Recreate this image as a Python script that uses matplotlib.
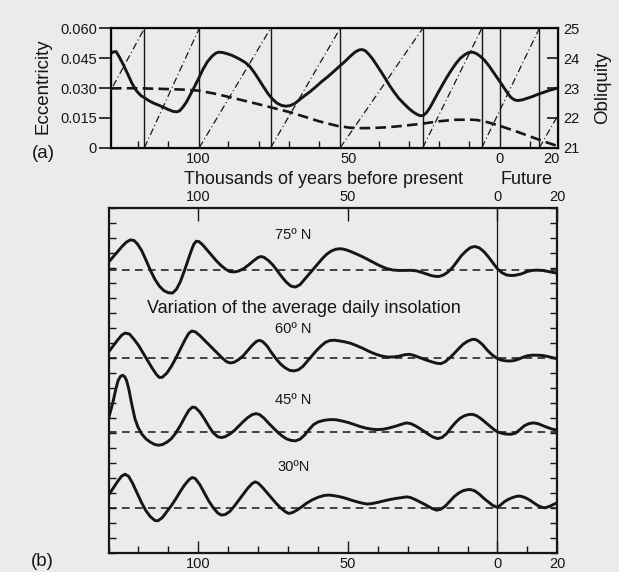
import numpy as np
import matplotlib
matplotlib.use('Agg')
import matplotlib.pyplot as plt
from matplotlib.ticker import MultipleLocator

plt.rcParams['font.family'] = ['Liberation Sans', 'DejaVu Sans']

# time in thousands of years, negative = before present
# ---- panel (a) ----
# obliquity (degrees)
obliquity = [(-129, 24.16), (-128.2, 24.21), (-127.3, 24.22), (-126.3, 24.05), (-125, 23.8),
             (-123.5, 23.48), (-122, 23.15), (-120.5, 22.9), (-119, 22.74), (-118, 22.68),
             (-116.5, 22.58), (-115, 22.5), (-113.3, 22.43), (-111.5, 22.35), (-110, 22.28),
             (-108.5, 22.22), (-107.2, 22.2), (-106.3, 22.23), (-105.2, 22.35), (-104, 22.52),
             (-102.8, 22.75), (-101.5, 23.0), (-100, 23.3), (-98.5, 23.62), (-97, 23.88),
             (-95.5, 24.06), (-94.2, 24.17), (-93.2, 24.2), (-92, 24.19), (-90.5, 24.15),
             (-89, 24.1), (-87.5, 24.03), (-86, 23.95), (-84.5, 23.86), (-83, 23.73),
             (-81.5, 23.53), (-80, 23.3), (-78.5, 23.06), (-77, 22.83), (-75.5, 22.64),
             (-74, 22.5), (-72.5, 22.42), (-71, 22.39), (-69.5, 22.41), (-68, 22.48),
             (-66.5, 22.6), (-65, 22.72), (-63, 22.87), (-61, 23.04), (-59, 23.22),
             (-57, 23.38), (-55, 23.56), (-53, 23.74), (-51, 23.92), (-49.5, 24.07),
             (-48, 24.2), (-46.8, 24.27), (-45.7, 24.29), (-44.6, 24.25), (-43.5, 24.14),
             (-42.2, 23.98), (-41, 23.8), (-39.5, 23.57), (-38, 23.33), (-36.5, 23.08),
             (-35, 22.86), (-33.5, 22.66), (-32, 22.5), (-30.5, 22.35), (-29, 22.22),
             (-27.5, 22.12), (-26.3, 22.07), (-25.3, 22.08), (-24.3, 22.17), (-23.2, 22.33),
             (-22, 22.55), (-20.5, 22.83), (-19, 23.1), (-17.5, 23.36), (-16, 23.6),
             (-14.5, 23.82), (-13, 24.0), (-11.5, 24.12), (-10.2, 24.19), (-9, 24.2),
             (-7.8, 24.16), (-6.5, 24.07), (-5, 23.93), (-3.5, 23.74), (-2, 23.52),
             (-0.5, 23.3), (1, 23.08), (2.5, 22.85), (3.8, 22.68), (5, 22.6), (6, 22.58),
             (7.5, 22.6), (9, 22.65), (10.8, 22.71), (12.5, 22.78), (14.5, 22.85),
             (16.5, 22.92), (19.3, 23.0)]

# eccentricity
eccentricity = [(-129, 0.0298), (-124, 0.0299), (-118, 0.0298), (-111, 0.0295), (-105, 0.0292),
                (-100, 0.0287), (-94, 0.0270), (-88, 0.0248), (-82, 0.0226), (-76, 0.0203),
                (-70, 0.0180), (-65, 0.0157), (-60, 0.0133), (-54, 0.0110), (-50, 0.0101),
                (-47, 0.0098), (-42, 0.0099), (-37, 0.0103), (-32, 0.0110), (-26, 0.0120),
                (-20, 0.0133), (-15, 0.0140), (-10, 0.0141), (-7.5, 0.0139), (-4, 0.0128),
                (0, 0.0110), (5, 0.0085), (10, 0.0057), (15, 0.0030), (19.3, 0.0008)]

# precession: perihelion longitude runs 0 -> 360 deg between these times
prec_resets = [-139.4, -117.9, -99.7, -76.0, -52.9, -25.5, -5.9, 13.2, 36.0]

# ---- panel (b): insolation anomalies (arbitrary units) ----
lat75 = [(-130, 0.50), (-128.5, 0.85), (-127, 1.20), (-125.5, 1.55), (-124, 1.85), (-122.7, 1.99),
         (-121.5, 1.95), (-120.4, 1.73), (-119, 1.30), (-117.5, 0.65), (-116, -0.05),
         (-114.5, -0.65), (-113, -1.10), (-111.5, -1.40), (-110, -1.54), (-108.6, -1.56),
         (-107.3, -1.30), (-106, -0.80), (-104.8, -0.15), (-103.5, 0.60), (-102.3, 1.30),
         (-101.5, 1.70), (-100.7, 1.90), (-99.8, 1.88), (-98.5, 1.65), (-97, 1.30), (-95.5, 0.95),
         (-94, 0.60), (-92.5, 0.30), (-91, 0.05), (-89.5, -0.12), (-88, -0.15), (-86.7, -0.10),
         (-85, 0.05), (-83.3, 0.30), (-81.5, 0.60), (-80, 0.82), (-79, 0.88), (-78, 0.82),
         (-76.5, 0.60), (-75, 0.30), (-73.5, -0.10), (-72, -0.50), (-70.5, -0.85), (-69, -1.10),
         (-67.5, -1.16), (-66, -1.00), (-64.5, -0.65), (-63, -0.30), (-61.5, 0.05), (-60, 0.40),
         (-58.5, 0.75), (-57, 1.05), (-55.5, 1.25), (-54, 1.37), (-52.5, 1.40), (-51, 1.35),
         (-49.5, 1.25), (-47.5, 1.08), (-45.5, 0.90), (-43.5, 0.70), (-41.6, 0.50), (-39.5, 0.28),
         (-37.1, 0.08), (-35, -0.02), (-33, -0.05), (-31, -0.05), (-29, -0.04), (-27, -0.08),
         (-25, -0.20), (-23.5, -0.30), (-22, -0.40), (-20.5, -0.45), (-19.5, -0.45), (-18, -0.35),
         (-16.5, -0.15), (-15, 0.15), (-13.5, 0.55), (-12, 0.95), (-10.5, 1.25), (-9, 1.48),
         (-7.5, 1.55), (-6, 1.45), (-4.5, 1.20), (-3, 0.85), (-1.5, 0.45), (0, 0.06),
         (1.5, -0.20), (3, -0.35), (4.6, -0.39), (6, -0.37), (8, -0.28), (10, -0.12),
         (11.5, -0.05), (13, -0.03), (15, -0.05), (17, -0.12), (18.5, -0.18), (20, -0.23)]

lat60 = [(-130, 0.40), (-128.5, 0.80), (-127, 1.20), (-125.5, 1.55), (-124.4, 1.67), (-123, 1.60),
         (-121.5, 1.25), (-120, 0.85), (-118.5, 0.35), (-117, -0.15), (-115.5, -0.65),
         (-114, -1.10), (-113, -1.30), (-112, -1.28), (-110.5, -1.00), (-109, -0.55),
         (-107.5, 0.00), (-106, 0.60), (-104.5, 1.20), (-103.2, 1.65), (-102.2, 1.80),
         (-101, 1.75), (-99.5, 1.50), (-98, 1.20), (-96.5, 0.90), (-95, 0.60), (-93.5, 0.30),
         (-92, 0.00), (-90.5, -0.25), (-89.3, -0.33), (-88, -0.28), (-86.5, -0.10), (-85, 0.15),
         (-83.5, 0.50), (-82, 0.85), (-80.5, 1.12), (-79.5, 1.18), (-78.5, 1.10), (-77, 0.80),
         (-75.5, 0.35), (-74, -0.05), (-72.5, -0.40), (-71, -0.65), (-69.5, -0.82), (-68, -0.86),
         (-66.5, -0.78), (-65, -0.55), (-63.5, -0.20), (-62, 0.15), (-60.5, 0.50), (-59, 0.80),
         (-57.5, 1.05), (-56, 1.17), (-54.5, 1.19), (-53, 1.15), (-51, 1.08), (-49, 0.98),
         (-47, 0.82), (-45, 0.65), (-43, 0.45), (-41, 0.28), (-39, 0.15), (-37, 0.07), (-35, 0.07),
         (-33, 0.12), (-31, 0.22), (-29.5, 0.25), (-28, 0.18), (-26, 0.03), (-24, -0.12),
         (-22, -0.25), (-20.5, -0.34), (-19, -0.38), (-17.5, -0.25), (-16, 0.00), (-14.5, 0.30),
         (-13, 0.62), (-11.5, 0.92), (-10, 1.12), (-8.5, 1.24), (-7.5, 1.25), (-6.5, 1.15),
         (-5, 0.90), (-3.5, 0.55), (-2, 0.25), (-0.5, 0.02), (1, -0.12), (2.5, -0.18), (4, -0.20),
         (5.5, -0.17), (7, -0.08), (8.5, 0.05), (10, 0.15), (11.5, 0.19), (13, 0.19), (14.5, 0.18),
         (16, 0.14), (17.5, 0.07), (19, 0.00), (20, -0.04)]

lat45 = [(-130, 0.93), (-129.2, 1.52), (-128.4, 2.15), (-127.6, 2.87), (-126.8, 3.48), (-126, 3.75),
         (-125.3, 3.82), (-124.6, 3.72), (-124, 3.48), (-123.2, 2.87), (-122.3, 1.93),
         (-121.2, 0.93), (-120.2, 0.37), (-119, -0.08), (-117.5, -0.43), (-116, -0.65),
         (-114.5, -0.81), (-113.2, -0.85), (-112, -0.81), (-110.5, -0.65), (-109, -0.41),
         (-107.5, -0.03), (-106, 0.47), (-104.5, 1.02), (-103.2, 1.47), (-102, 1.69), (-101, 1.67),
         (-99.5, 1.37), (-98, 0.92), (-96.5, 0.42), (-95, -0.03), (-93.5, -0.28), (-92.3, -0.34),
         (-91, -0.28), (-89.5, -0.11), (-88, 0.12), (-86.5, 0.42), (-85, 0.72), (-83.5, 0.99),
         (-82, 1.19), (-80.7, 1.26), (-79.5, 1.19), (-78, 0.95), (-76.5, 0.62), (-75, 0.32),
         (-73.5, 0.02), (-72, -0.23), (-70.5, -0.43), (-69, -0.53), (-67.5, -0.56), (-66, -0.45),
         (-64.5, -0.18), (-63, 0.19), (-61.5, 0.52), (-60, 0.70), (-58, 0.81), (-56, 0.86),
         (-54, 0.85), (-52, 0.77), (-50, 0.67), (-48, 0.54), (-46, 0.40), (-44, 0.29), (-42, 0.22),
         (-40, 0.19), (-38, 0.22), (-36, 0.31), (-34, 0.42), (-32, 0.55), (-30.5, 0.64),
         (-29, 0.59), (-27.5, 0.45), (-26, 0.27), (-24.5, 0.07), (-23, -0.13), (-21.5, -0.31),
         (-20, -0.41), (-18.5, -0.33), (-17, -0.08), (-15.5, 0.32), (-14, 0.67), (-12.5, 0.95),
         (-11, 1.12), (-9.5, 1.20), (-8.3, 1.21), (-7, 1.12), (-5.5, 0.92), (-4, 0.67), (-2.5, 0.42),
         (-1, 0.17), (0, 0.04), (1.5, -0.06), (3, -0.11), (4.5, -0.12), (6, -0.05), (7.5, 0.19),
         (9, 0.45), (10.5, 0.59), (12, 0.64), (13.5, 0.59), (15, 0.47), (16.5, 0.35), (18, 0.24),
         (20, 0.15)]

lat30 = [(-130, 0.84), (-128.5, 1.30), (-127, 1.75), (-125.7, 2.10), (-124.5, 2.24), (-123.3, 2.10),
         (-122, 1.65), (-120.5, 1.00), (-119, 0.35), (-117.5, -0.20), (-116, -0.60),
         (-114.5, -0.85), (-113.5, -0.87), (-112, -0.65), (-110.5, -0.25), (-109, 0.15),
         (-107.5, 0.60), (-106, 1.10), (-104.5, 1.55), (-103, 1.90), (-102, 2.02), (-101, 1.95),
         (-99.5, 1.55), (-98, 1.00), (-96.5, 0.45), (-95, 0.00), (-93.5, -0.35), (-92.3, -0.49),
         (-91, -0.45), (-89.5, -0.25), (-88, 0.10), (-86.5, 0.50), (-85, 0.90), (-83.5, 1.30),
         (-82, 1.62), (-81, 1.73), (-80, 1.65), (-78.5, 1.35), (-77, 1.00), (-75.5, 0.65),
         (-74, 0.30), (-72.5, 0.00), (-71, -0.25), (-69.8, -0.38), (-68.5, -0.32), (-67, -0.15),
         (-65.5, 0.05), (-64, 0.28), (-62, 0.52), (-60, 0.70), (-58, 0.82), (-56.5, 0.85),
         (-55, 0.82), (-53, 0.75), (-51, 0.65), (-49, 0.52), (-47, 0.40), (-45, 0.30),
         (-43.5, 0.25), (-42, 0.28), (-40, 0.36), (-38, 0.46), (-36, 0.55), (-34, 0.62),
         (-32, 0.68), (-30.3, 0.73), (-29, 0.68), (-27.5, 0.55), (-26, 0.40), (-24.5, 0.25),
         (-23, 0.08), (-21.5, -0.08), (-20.3, -0.16), (-19, -0.10), (-17.5, 0.10), (-16, 0.42),
         (-14.5, 0.74), (-13, 0.98), (-11.5, 1.14), (-10, 1.21), (-9, 1.22), (-7.5, 1.12),
         (-6, 0.90), (-4.5, 0.62), (-3, 0.38), (-1.5, 0.15), (0, 0.02), (1, 0.18), (2.3, 0.40),
         (3.5, 0.55), (5, 0.68), (6.5, 0.77), (7.5, 0.78), (9, 0.70), (10.5, 0.55), (12, 0.35),
         (13.5, 0.15), (15, 0.02), (16, 0.00), (17.5, 0.10), (19, 0.25), (20, 0.33)]

latitudes = ['75º N', '60º N', '45º N', '30ºN']

bg = '#ebebea'
ink = '#161616'

fig = plt.figure(figsize=(6.19, 5.72), dpi=100, facecolor=bg)

# ------------------ panel (a) ------------------
ax_a = fig.add_axes([0.1793, 0.7418, 0.7217, 0.2087], facecolor=bg)
ax_a.set_xlim(-129, 19.3)
ax_a.set_ylim(0, 0.06)
ax_a.set_yticks([0, 0.015, 0.03, 0.045, 0.06], labels=['0', '0.015', '0.030', '0.045', '0.060'])
ax_a.set_xticks([-100, -50, 0, 17.3], labels=['100', '50', '0', '20'])
ax_a.xaxis.set_minor_locator(MultipleLocator(10))
ax_a.tick_params(axis='x', which='major', length=0, pad=3, labelsize=10.5, colors=ink)
ax_a.tick_params(axis='x', which='minor', direction='in', length=5, width=1, color=ink)
ax_a.tick_params(axis='y', direction='out', length=9, width=1.2, pad=1, labelsize=10.5, colors=ink)
for s in ax_a.spines.values():
    s.set_linewidth(1.6)
    s.set_color(ink)

et, ev = zip(*eccentricity)
ax_a.plot(et, ev, color=ink, lw=1.9, ls=(0, (4, 2)))

for t in prec_resets + [0]:
    ax_a.axvline(t, color=ink, lw=1.0)

ax_o = ax_a.twinx()
ax_o.set_ylim(21, 25)
ax_o.set_yticks([21, 22, 23, 24, 25])
ax_o.tick_params(axis='y', direction='in', length=8, width=1.2, pad=4, labelsize=10.5, colors=ink)
ot, ov = zip(*obliquity)
ax_o.plot(ot, ov, color=ink, lw=2.1)

ax_p = ax_a.twinx()
ax_p.set_ylim(0, 360)
ax_p.axis('off')
for i in range(len(prec_resets) - 1):
    ax_p.plot([prec_resets[i], prec_resets[i + 1]], [0, 360], color=ink, lw=0.9,
              ls=(0, (5.6, 2.4, 0.8, 2.4)))
ax_p.set_xlim(-129, 19.3)

fig.text(43 / 619, 1 - 86 / 572, 'Eccentricity', rotation=90, ha='center', va='center',
         fontsize=13.5, color=ink)
fig.text(603 / 619, 1 - 87.5 / 572, 'Obliquity', rotation=90, ha='center', va='center',
         fontsize=13.5, color=ink)
fig.text(43 / 619, 1 - 153 / 572, '(a)', ha='center', va='center', fontsize=13.5, color=ink)
fig.text(324 / 619, 1 - 180 / 572, 'Thousands of years before present', ha='center', va='center',
         fontsize=13, color=ink)
fig.text(527 / 619, 1 - 180 / 572, 'Future', ha='center', va='center', fontsize=13, color=ink)

# ------------------ panel (b) ------------------
ax_b = fig.add_axes([0.1754, 0.03374, 0.7249, 0.6021], facecolor=bg)
ax_b.set_xlim(-130, 20)
ax_b.set_ylim(0, 23)
ax_b.set_xticks([-100, -50, 0, 20], labels=['100', '50', '0', '20'])
ax_b.xaxis.set_minor_locator(MultipleLocator(10))
ax_b.set_yticks([])
ax_b.yaxis.set_minor_locator(MultipleLocator(1))
ax_b.tick_params(axis='x', which='major', direction='in', length=9, width=1, pad=3,
                 labelsize=10.5, colors=ink, top=True, labeltop=True)
ax_b.tick_params(axis='x', which='minor', direction='in', length=5, width=1, color=ink, top=False)
ax_b.tick_params(axis='y', which='minor', direction='in', length=5, width=1, color=ink,
                 left=True, right=True)
for s in ax_b.spines.values():
    s.set_linewidth(1.6)
    s.set_color(ink)

ax_b.axvline(0, color=ink, lw=0.9)

offsets = [18.9, 13.0, 8.03, 3.0]
for series, off in zip([lat75, lat60, lat45, lat30], offsets):
    tt, vv = zip(*series)
    ax_b.axhline(off, color=ink, lw=1.1, ls=(0, (5, 3.5)))
    ax_b.plot(tt, np.array(vv) + off, color=ink, lw=2.1)

label_y = [21.2, 14.96, 10.18, 5.69]
for name, y in zip(latitudes, label_y):
    ax_b.text(-68.2, y, name, ha='center', va='center', fontsize=10.5, color=ink)
ax_b.text(-64.8, 16.3, 'Variation of the average daily insolation', ha='center', va='center',
          fontsize=13, color=ink)

fig.text(42 / 619, 1 - 562 / 572, '(b)', ha='center', va='center', fontsize=13.5, color=ink)

fig.savefig('out.png', dpi=100, facecolor=bg)
